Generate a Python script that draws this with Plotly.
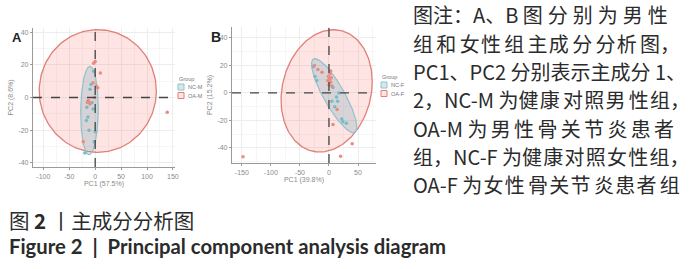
import numpy as np
import plotly.graph_objects as go

W, H = 700, 269

# ---------------- data ----------------
# Panel A (male)
a_nc_x = [-14, -17, -4, 0, -2, -10, -20, -8, -6, -12, -3, -16]
a_nc_y = [-12, -14, -7, -21, -27, 5, -34, 8, -3, -20, 16, -6]
a_oa_x = [-14, -12, -10, -15, -13, -3, 0, 10, 2, 5, -4, 139, -23, -1]
a_oa_y = [-2, -3, -4, -3, -2, 21, 22, 15, 7, 6, 9, -9, -27, 0]
# ellipses: centre, half extents, correlation
a_nc_ell = dict(cx=-11, cy=-8, sx=17, sy=27, r=0.05)
a_oa_ell = dict(cx=5, cy=4, sx=113, sy=37.5, r=0.0)

# Panel B (female)
b_nc_x = [24, 22, 13, 15, -21, -24, 5, 7, -27, 17, 10, 30]
b_nc_y = [-21, -19, -3, -6, 9, 12, -6, 4, 19, 0, -10, -22]
b_oa_x = [-1, 1, 3, 0, 2, 4, -2, 5, -19, -25, -12, 14, 7, -148, 20, 40, 3]
b_oa_y = [12, 10, 8, 6, 14, 11, 9, 5, 17, 20, 15, -12, -23, -46.5, -46, -37, 16]
b_nc_ell = dict(cx=9, cy=-2, sx=39, sy=27, r=-0.85)
b_oa_ell = dict(cx=-4, cy=1.5, sx=78.5, sy=44.5, r=0.15)

a_xticks = [-100, -50, 0, 50, 100, 150]
a_yticks = [-40, -20, 0, 20, 40]
b_xticks = [-150, -100, -50, 0, 50]
b_yticks = [-40, -20, 0, 20, 40]

groups_a = ["NC-M", "OA-M"]
groups_b = ["NC-F", "OA-F"]
a_xlabel, a_ylabel = "PC1 (57.5%)", "PC2 (8.6%)"
b_xlabel, b_ylabel = "PC1 (39.8%)", "PC2 (15.2%)"

S4 = "\u2005"  # four-per-em space (justification gap)
S6 = "\u2006"  # six-per-em space
HS = "\u200a"  # hair space


def spread(text, gaps):
    out = text[0]
    for i, ch in enumerate(text[1:]):
        out += gaps[i % len(gaps)] + ch
    return out


note_lines = [
    "图注：A、B 图" + S4 + spread("分别为男性", [S4]),
    spread("组和女性组主成分分析图", [S6, S6, HS]) + "，",
    "PC1、PC2 分别表示主成分 1、",
    "2，NC-M 为" + spread("健康对照男性组", [HS, S6, HS]) + "，",
    "OA-M 为" + S6 + spread("男性骨关节炎患者", [S6]),
    "组，NC-F 为" + spread("健康对照女性组", [HS]) + "，",
    "OA-F " + spread("为女性骨关节炎患者组", [HS, HS, S6]),
]
caption_cn = "图 <b>2</b> 丨主成分分析图"
caption_en = "<b>Figure 2  |  Principal component analysis diagram</b>"

# ---------------- styles ----------------
RED = "#E98A83"
RED_LINE = "#E07F78"
BLUE = "#74BCC8"
BLUE_LINE = "#8EC3CE"
RED_FILL = "rgba(248,118,109,0.20)"
BLUE_FILL = "rgba(120,170,185,0.28)"
GRID = "#EDEDED"
MINOR = "#F6F6F6"
TICKC = "#8A8A8A"


def px(x):
    return x / W


def py(y):
    return 1 - y / H


def ellipse(e):
    t = np.linspace(0, 2 * np.pi, 181)
    x = e["cx"] + e["sx"] * np.cos(t)
    y = e["cy"] + e["sy"] * (e["r"] * np.cos(t) + np.sqrt(1 - e["r"] ** 2) * np.sin(t))
    return x, y


fig = go.Figure()


def add_panel(xa, ya, nc_x, nc_y, oa_x, oa_y, nc_e, oa_e):
    ex, ey = ellipse(oa_e)
    fig.add_trace(go.Scatter(x=ex, y=ey, mode="lines", fill="toself", fillcolor=RED_FILL,
                             line=dict(color=RED_LINE, width=1.3), xaxis=xa, yaxis=ya,
                             showlegend=False, hoverinfo="skip"))
    ex, ey = ellipse(nc_e)
    fig.add_trace(go.Scatter(x=ex, y=ey, mode="lines", fill="toself", fillcolor=BLUE_FILL,
                             line=dict(color=BLUE_LINE, width=1.2), xaxis=xa, yaxis=ya,
                             showlegend=False, hoverinfo="skip"))
    fig.add_trace(go.Scatter(x=nc_x, y=nc_y, mode="markers", xaxis=xa, yaxis=ya,
                             marker=dict(color=BLUE, size=3.5), showlegend=False))
    fig.add_trace(go.Scatter(x=oa_x, y=oa_y, mode="markers", xaxis=xa, yaxis=ya,
                             marker=dict(color=RED, size=3.5), showlegend=False))


add_panel("x", "y", a_nc_x, a_nc_y, a_oa_x, a_oa_y, a_nc_ell, a_oa_ell)
add_panel("x2", "y2", b_nc_x, b_nc_y, b_oa_x, b_oa_y, b_nc_ell, b_oa_ell)


def axis(domain, rng, ticks, anchor, title, minor_dtick, standoff):
    return dict(
        domain=domain, range=rng, anchor=anchor, automargin=False,
        tickvals=ticks, ticktext=[str(t) for t in ticks],
        showgrid=True, gridcolor=GRID, gridwidth=1,
        minor=dict(showgrid=True, gridcolor=MINOR, dtick=minor_dtick, tick0=0),
        zeroline=False, showline=True, linecolor="#9A9A9A", linewidth=1.2,
        ticks="outside", ticklen=2, tickcolor="#9A9A9A",
        tickfont=dict(size=7, color=TICKC, family="Liberation Sans"),
        title=dict(text=title, font=dict(size=7, color=TICKC, family="Liberation Sans"),
                   standoff=standoff),
    )


layout = dict(
    width=W, height=H, margin=dict(l=0, r=0, t=0, b=0, autoexpand=False),
    paper_bgcolor="white", plot_bgcolor="white", showlegend=False,
    xaxis=axis([px(33), px(175)], [-120, 154], a_xticks, "y", a_xlabel, 25, 2),
    yaxis=axis([py(167), py(28)], [-42.5, 42.5], a_yticks, "x", a_ylabel, 10, 3),
    xaxis2=axis([px(232), px(376)], [-167, 81], b_xticks, "y2", b_xlabel, 25, 2),
    yaxis2=axis([py(163), py(27)], [-51, 48], b_yticks, "x2", b_ylabel, 10, 3),
)
fig.update_layout(**layout)

# dashed zero reference lines
for xa, ya in [("x", "y"), ("x2", "y2")]:
    fig.add_shape(type="line", xref=xa, yref=ya + " domain", x0=0, x1=0, y0=0, y1=1,
                  line=dict(color="#444", width=1.3, dash="dash"))
    fig.add_shape(type="line", xref=xa + " domain", yref=ya, x0=0, x1=1, y0=0, y1=0,
                  line=dict(color="#444", width=1.3, dash="dash"))

ann = []
# panel letters
ann.append(dict(text="<b>A</b>", x=px(11), y=py(29), xref="paper", yref="paper",
                showarrow=False, borderpad=0,
                font=dict(size=13, color="#222", family="Liberation Sans")))
ann.append(dict(text="<b>B</b>", x=px(210), y=py(28), xref="paper", yref="paper",
                showarrow=False, borderpad=0,
                font=dict(size=14, color="#222", family="Liberation Sans")))

# manual legends
shapes = []
for (lx, ly, names) in [(177, 79, groups_a), (380, 77, groups_b)]:
    ann.append(dict(text="Group", x=px(lx), y=py(ly), xref="paper", yref="paper",
                    xanchor="left", yanchor="middle", showarrow=False,
                    font=dict(size=5.5, color="#777", family="Liberation Sans")))
    for i, (nm, fc, lc) in enumerate(zip(names, [BLUE_FILL, RED_FILL], [BLUE_LINE, RED_LINE])):
        cy = ly + 8 + i * 8.5
        shapes.append(dict(type="rect", xref="paper", yref="paper",
                           x0=px(lx + 1), x1=px(lx + 7), y0=py(cy + 3), y1=py(cy - 3),
                           fillcolor=fc, line=dict(color=lc, width=1)))
        ann.append(dict(text=nm, x=px(lx + 9), y=py(cy), xref="paper", yref="paper",
                        xanchor="left", yanchor="middle", showarrow=False,
                        font=dict(size=5.5, color="#777", family="Liberation Sans")))

# right-side note
for i, line in enumerate(note_lines):
    ann.append(dict(text=line, x=px(411), y=py(15 + i * 28.3), xref="paper", yref="paper",
                    xanchor="left", yanchor="middle", showarrow=False,
                    font=dict(size=20, color="#2B2B2B", family="Noto Sans CJK SC")))

# captions
ann.append(dict(text=caption_cn, x=px(7), y=py(220), xref="paper", yref="paper",
                xanchor="left", yanchor="middle", showarrow=False,
                font=dict(size=20.5, color="#2B2B2B", family="Noto Sans CJK SC")))
ann.append(dict(text=caption_en, x=px(7), y=py(246), xref="paper", yref="paper",
                xanchor="left", yanchor="middle", showarrow=False,
                font=dict(size=20.3, color="#2B2B2B", family="Lato")))

fig.update_layout(annotations=ann)
for s in shapes:
    fig.add_shape(**s)

fig.write_html("out.html", config={"displayModeBar": False},
               post_script="document.body.style.margin='0px';")
